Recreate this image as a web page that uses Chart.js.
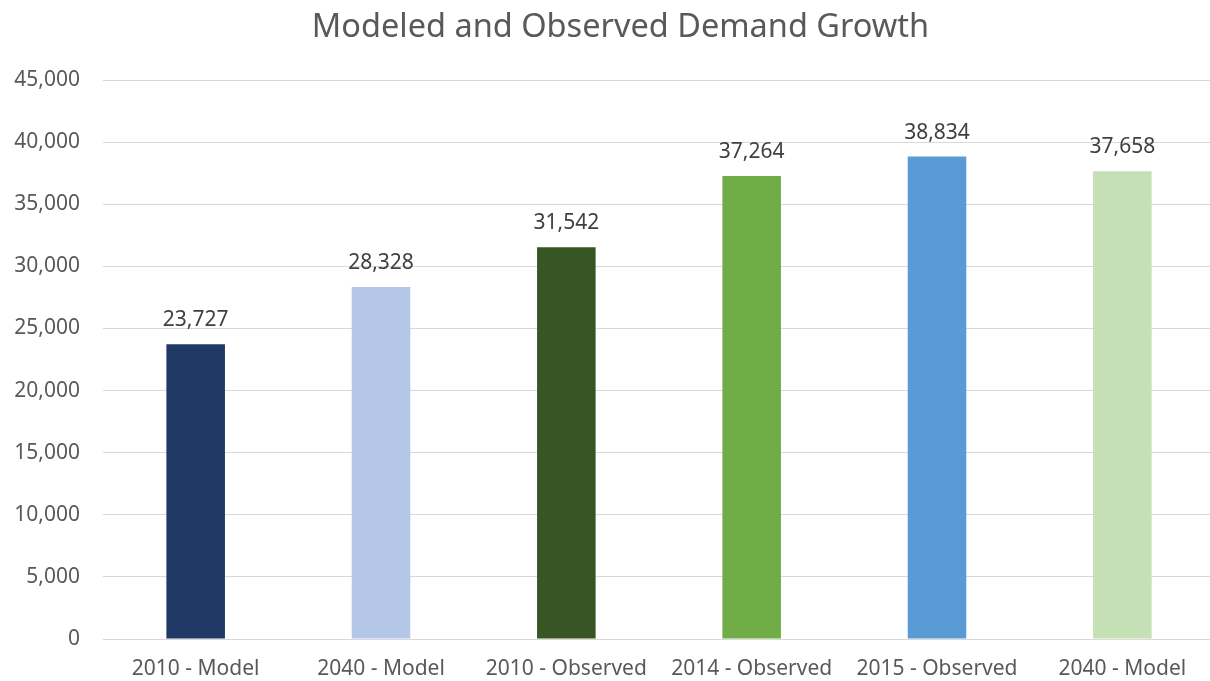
<!DOCTYPE html>
<html>
<head>
<meta charset="utf-8">
<script src="https://cdn.jsdelivr.net/npm/chart.js@4.4.0/dist/chart.umd.min.js"></script>
<style>
  html, body { margin: 0; padding: 0; background: #fff; overflow: hidden; }
  #wrap { width: 1210px; height: 681px; overflow: hidden; }
</style>
</head>
<body>
<div id="wrap"><canvas id="chart" width="1240" height="681"></canvas></div>
<script>
// data
const categories = ["2010 - Model", "2040 - Model", "2010 - Observed", "2014 - Observed", "2015 - Observed", "2040 - Model"];
const demandValues = [23727, 28328, 31542, 37264, 38834, 37658];
const barColors = ["#203864", "#B4C7E7", "#375623", "#70AD47", "#5B9BD5", "#C5E0B4"];
const yTicks = [0, 5000, 10000, 15000, 20000, 25000, 30000, 35000, 40000, 45000];

const FONT = "'Noto Sans', sans-serif";

function fmt(v) {
  return Number(v).toLocaleString("en-US");
}

// draws the number above every bar, and nudges the title to the right
const valueLabels = {
  id: "valueLabels",
  afterLayout(chart) {
    const t = chart.titleBlock;
    if (t) { t.left += 13; t.right += 13; }
  },
  afterDatasetsDraw(chart) {
    const ctx = chart.ctx;
    const meta = chart.getDatasetMeta(0);
    ctx.save();
    ctx.font = "21px " + FONT;
    ctx.fillStyle = "#404040";
    ctx.textAlign = "center";
    ctx.textBaseline = "middle";
    meta.data.forEach((bar, i) => {
      ctx.fillText(fmt(demandValues[i]), bar.x, bar.y - 24);
    });
    ctx.restore();
  }
};

// canvas is a bit wider than the window so the plot runs off the right edge like the original
new Chart(document.getElementById("chart"), {
  type: "bar",
  data: {
    labels: categories,
    datasets: [{
      data: demandValues,
      backgroundColor: barColors,
      barPercentage: 0.316,
      categoryPercentage: 1
    }]
  },
  options: {
    responsive: false,
    animation: false,
    layout: { padding: { left: 0, right: 25, top: 0, bottom: 0 } },
    plugins: {
      legend: { display: false },
      tooltip: { enabled: false },
      title: {
        display: true,
        text: "Modeled and Observed Demand Growth",
        color: "#595959",
        font: { family: FONT, size: 32.5, weight: "normal" },
        padding: { top: 8, bottom: 33 }
      }
    },
    scales: {
      x: {
        grid: { display: false },
        border: { color: "#D9D9D9", width: 1 },
        ticks: { color: "#595959", font: { family: FONT, size: 21 }, padding: 9, maxRotation: 0 },
        afterFit(scale) { scale.height = 42; }
      },
      y: {
        min: 0,
        max: 45000,
        afterBuildTicks(scale) { scale.ticks = yTicks.map(v => ({ value: v })); },
        grid: { color: "#D9D9D9", lineWidth: 1, drawTicks: false },
        border: { display: false },
        ticks: { color: "#595959", font: { family: FONT, size: 21 }, padding: 23, callback: v => fmt(v) },
        afterFit(scale) { scale.width = 103; }
      }
    }
  },
  plugins: [valueLabels]
});
</script>
</body>
</html>
